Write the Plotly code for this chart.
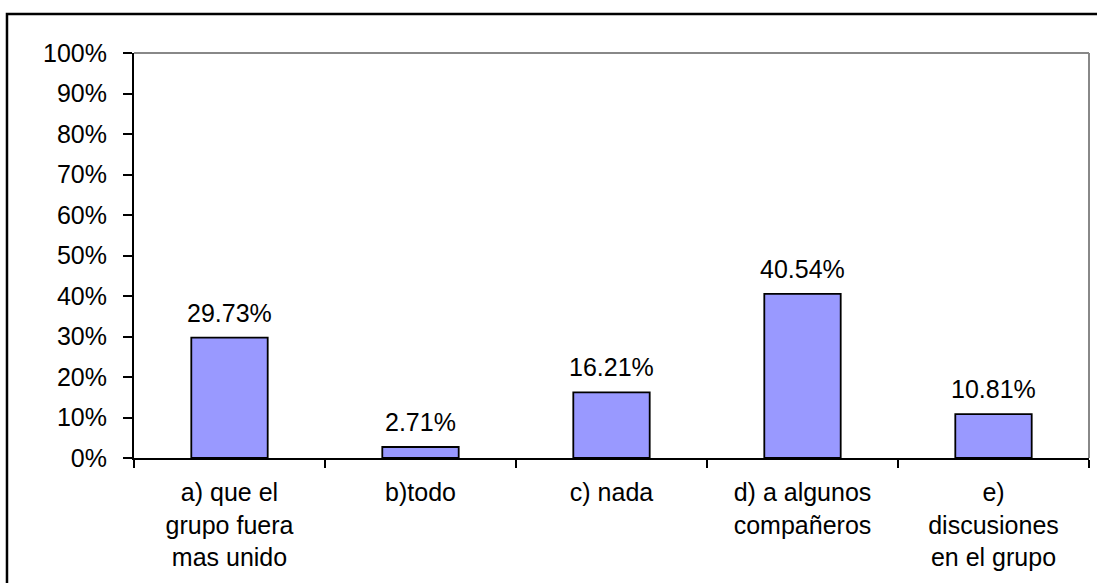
import plotly.graph_objects as go

categories = ["a) que el<br>grupo fuera<br>mas unido", "b)todo", "c) nada",
              "d) a algunos<br>compañeros", "e)<br>discusiones<br>en el grupo"]
values = [29.73, 2.71, 16.21, 40.54, 10.81]
tick_vals = [0, 10, 20, 30, 40, 50, 60, 70, 80, 90, 100]
tick_text = [f"{v}%" for v in tick_vals]

FONT = dict(family="Liberation Sans, Arial", size=25, color="black")

fig = go.Figure()
fig.add_trace(go.Bar(
    x=categories, y=values,
    marker=dict(color="#9999FF", line=dict(color="black", width=1.8)),
    width=0.4,
))

for c, v in zip(categories, values):
    fig.add_annotation(x=c, y=v, text=f"{v:.2f}%", showarrow=False,
                       yanchor="middle", yshift=25, font=FONT)

fig.update_layout(
    width=1097, height=583,
    margin=dict(l=134, r=8, t=53, b=125),
    paper_bgcolor="white", plot_bgcolor="white",
    font=FONT,
    showlegend=False,
    xaxis=dict(
        type="category", tickson="boundaries", ticks="outside", ticklen=8,
        tickcolor="black", tickwidth=2, showline=True, linecolor="black",
        linewidth=2, showgrid=False, tickfont=FONT, ticklabelstandoff=11,
    ),
    yaxis=dict(
        range=[0, 100], tickvals=tick_vals, ticktext=tick_text,
        ticks="outside", ticklen=9, tickcolor="black", tickwidth=2,
        showline=True, linecolor="black", linewidth=2, showgrid=False,
        zeroline=False, tickfont=FONT, ticklabelstandoff=11,
    ),
    shapes=[
        dict(type="line", xref="paper", yref="paper", x0=0, x1=1, y0=1, y1=1,
             line=dict(color="#888888", width=2)),
        dict(type="line", xref="paper", yref="paper", x0=1, x1=1, y0=0, y1=1,
             line=dict(color="#888888", width=2)),
        dict(type="rect", xref="paper", yref="paper", x0=-0.133, x1=1.05,
             y0=-0.6, y1=1.0963, line=dict(color="black", width=2.5)),
    ],
)

fig.write_html("out.html",
               config={"displayModeBar": False},
               post_script="document.body.style.margin='0';document.body.style.overflow='hidden';")
